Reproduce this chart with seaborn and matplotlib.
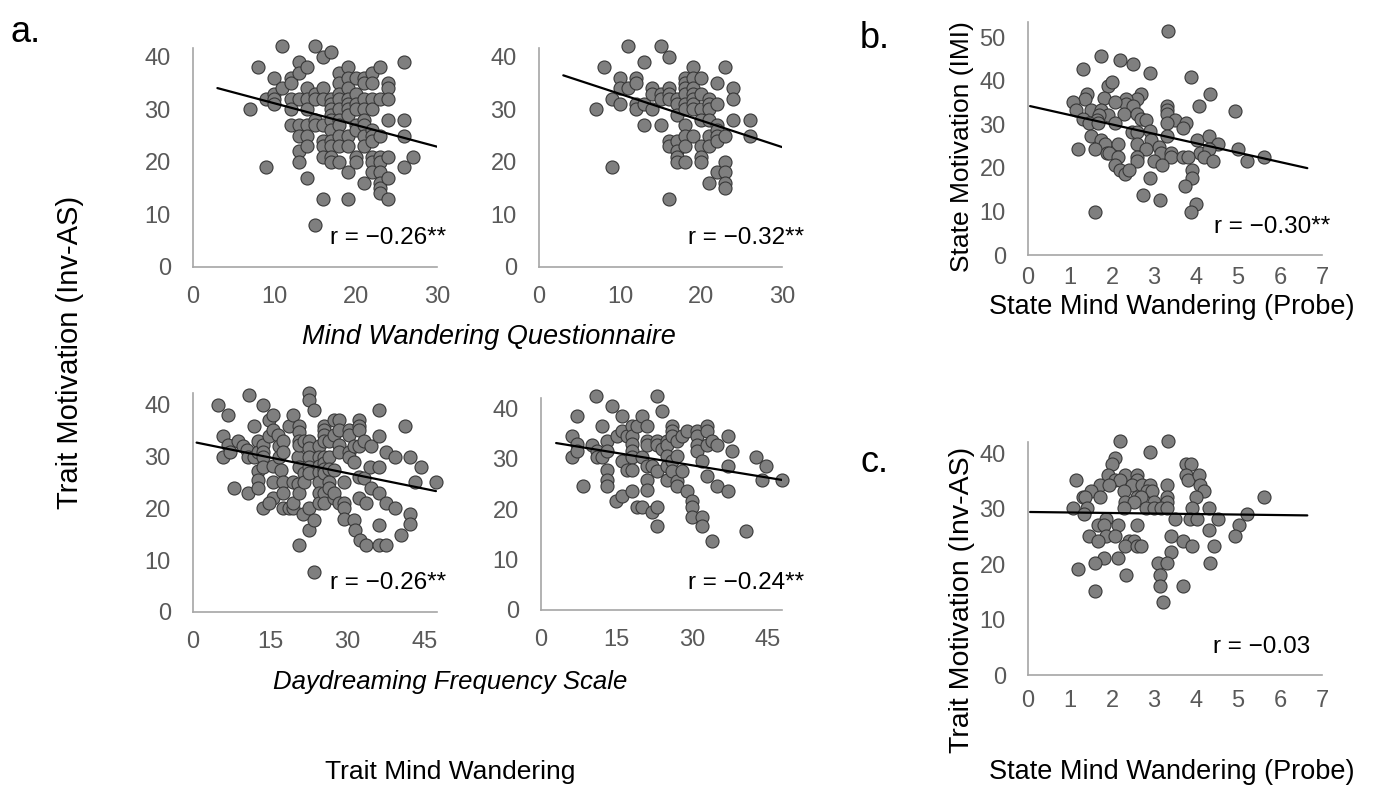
import numpy as np
import pandas as pd
import seaborn as sns
import matplotlib
matplotlib.use("Agg")
import matplotlib.pyplot as plt

# ---- data ----
# Mind Wandering Questionnaire (left): score -> motivation values at that score
mwq_a_score = [7, 8, 9, 10, 11, 12, 13, 14, 15, 16, 17, 18, 19, 20, 21, 22, 23, 24, 26, 27]
mwq_a_motiv = [
    [30], [38], [32, 19], [36, 33, 32, 31], [42, 34], [36, 35, 32, 30, 27],
    [39, 37, 32, 27, 25, 22, 20], [38, 34, 32, 30, 27, 25, 23, 17],
    [42, 33, 32, 28, 27, 8], [40, 34, 32, 27, 24, 23, 21, 13],
    [41, 32, 31, 30, 29, 28, 26, 24, 23, 21, 20],
    [37, 35, 33, 32, 30, 28, 27, 25, 23, 20],
    [38, 36, 34, 32, 31, 30, 29, 25, 23, 18, 13],
    [36, 33, 31, 30, 27, 26, 21, 20], [36, 35, 32, 30, 28, 27, 25, 23, 16],
    [37, 35, 32, 30, 26, 25, 24, 21, 20, 18],
    [38, 32, 25, 21, 20, 18, 16, 15, 14], [35, 34, 32, 28, 21, 17, 13],
    [39, 28, 25, 19], [21],
]

# Mind Wandering Questionnaire (right)
mwq_b_score = [7, 8, 9, 10, 11, 12, 13, 14, 15, 16, 17, 18, 19, 20, 21, 22, 23, 24, 26]
mwq_b_motiv = [
    [30], [38], [32, 19], [36, 34, 31], [42, 34], [36, 35, 31, 30], [39, 31, 27],
    [34, 33, 30], [42, 33, 32, 27], [40, 34, 33, 32, 24, 23, 13],
    [32, 31, 29, 24, 22, 21, 20], [36, 35, 34, 33, 31, 30, 27, 25, 23, 20],
    [38, 36, 34, 33, 32, 31, 30, 25], [36, 33, 30, 28, 23, 21, 20],
    [32, 31, 30, 28, 25, 23, 16], [35, 31, 27, 26, 25, 24, 18],
    [38, 25, 20, 18, 16, 15], [34, 32, 28], [28, 25],
]

# Daydreaming Frequency Scale (left)
ddfs_a_score = [4.9, 6.8, 5.9, 5.9, 6.8, 7.2, 7.9, 8.8, 9.7, 10.5, 10.7, 10.9, 10.7, 11.8, 11.8,
                12.6, 12.6, 12.6, 12.6, 12.6, 13.6, 13.6, 13.6, 13.6, 13.6, 13.6, 14.7, 14.7,
                15.5, 15.5, 15.5, 15.5, 15.5, 14.8, 16.5, 16.7, 16.7, 17.2, 17.5, 17.6, 17.6,
                17.6, 17.6, 18.6, 18.6, 19.4, 19.5, 19.5, 19.5, 20.4, 20.4, 20.7, 20.7, 20.7,
                20.7, 20.6, 20.7, 20.7, 21.7, 21.7, 21.7, 21.5, 22.6, 22.6, 22.6, 22.6, 22.6,
                22.6, 22.6, 22.6, 22.6, 23.6, 23.6, 23.6, 24.6, 24.6, 24.6, 24.6, 24.6, 24.6,
                24.6, 25.5, 25.5, 25.5, 25.5, 25.5, 25.5, 25.5, 25.5, 25.5, 25.5, 26.5, 26.5,
                26.5, 26.5, 26.5, 27.5, 27.5, 27.5, 27.5, 27.5, 28.4, 28.4, 28.4, 28.4, 28.4,
                29.4, 29.4, 29.4, 29.4, 30.4, 30.4, 30.4, 30.4, 31.4, 31.4, 31.4, 31.5, 32.3,
                32.3, 32.3, 32.3, 32.3, 32.3, 32.5, 33.3, 33.3, 33.6, 33.6, 34.6, 34.4, 34.6,
                36.3, 36.3, 36.3, 36.3, 36.3, 36.3, 37.5, 37.5, 37.5, 39.3, 39.3, 40.4, 41.2,
                42.3, 42.3, 42.3, 43.3, 44.3, 47.3]
ddfs_a_motiv = [40, 38, 34, 30, 32.3, 31, 24, 33, 32, 31.3, 30, 42, 23, 36, 30,
                33, 31, 27.3, 25.5, 24, 40, 32.3, 31, 30, 28, 20, 37, 34,
                38, 35.2, 28.2, 25.2, 22, 21, 34.2, 32, 30, 27.4, 33, 31, 25.2,
                23, 20, 36, 20, 20, 25.2, 21, 38, 30, 24.8, 36, 34.8, 33,
                32.3, 28, 23, 13, 33, 26.8, 25.2, 19, 42.3, 41, 20, 15.8, 33,
                31.6, 30, 28, 26.8, 39, 17.7, 7.7, 32, 30, 28.2, 27.1, 25.2, 23,
                21, 36, 35.2, 34.2, 33, 30, 28.7, 27.7, 26.8, 23, 21, 33, 30,
                27.7, 25.2, 24, 37, 34.2, 27.4, 22, 23, 37, 35.2, 32.3, 31, 21,
                25.2, 21, 20, 18, 35.2, 34.2, 31, 30, 32, 29, 17.7, 15.8, 37,
                36, 35.2, 32, 26.1, 22, 14, 33, 25.8, 21, 13, 32, 28, 24,
                39, 34, 28, 23, 16.8, 13, 13, 31, 21, 30, 20, 14.8, 36,
                30, 19, 17, 25.2, 28, 25.2]

# Daydreaming Frequency Scale (right)
ddfs_b_score = [6.1, 6.1, 7.1, 7.2, 7.2, 8.3, 10.1, 10.9, 11.1, 11.1, 12.1, 12.1, 13, 13, 13,
                13, 13, 14, 15, 14.9, 16, 16, 16, 16, 17, 17, 18, 18, 18, 18, 18, 18, 18,
                19, 19, 20, 20, 20, 21, 21, 21, 21, 21, 21, 22, 22, 23, 23, 23, 23, 23, 23,
                24, 24, 25, 25, 25, 25, 25, 26, 26, 26, 26, 26, 27, 27, 27, 27, 28, 28, 29,
                29, 30, 30, 30, 31, 31, 31, 31, 32, 32, 32, 33, 33, 33, 33, 34, 34, 35, 35,
                37, 37, 37, 37.9, 40.7, 42.7, 43.8, 44.7, 47.8]
ddfs_b_motiv = [34.4, 30.3, 38.4, 32.8, 31.5, 24.5, 32.6, 42.3, 31.5, 30.3, 36.4, 30.3, 33.4,
                31.5, 27.7, 25.7, 24.5, 40.4, 34.4, 21.5, 38.4, 35.4, 29.5, 22.5, 34.4, 27.7,
                36.4, 34.4, 32.8, 31.5, 30.3, 27.7, 23.5, 36.4, 20.5, 38.4, 30.3, 20.5, 36.4,
                33.4, 32.6, 28.5, 25.7, 23.8, 28.5, 19.5, 42.3, 33.4, 32.6, 27.5, 20.5, 16.7,
                39.4, 31.8, 33.4, 32.6, 30.5, 28.5, 25.7, 36.4, 35.4, 34.4, 29.5, 27.5, 33.4,
                30.5, 25.5, 24.5, 34.4, 27.5, 35.4, 23.5, 21.5, 20.5, 18.5, 35.4, 34.4, 32.6,
                31.5, 29.5, 18.5, 16.7, 36.4, 35.4, 32.6, 26.5, 33.4, 13.7, 32.6, 24.5, 34.4,
                28.5, 23.5, 31.5, 15.6, 30.3, 25.7, 28.5, 25.7]

# State mind wandering (probe) vs state motivation (IMI)
probe_b = [3.34, 1.74, 2.2, 2.5, 1.3, 2.9, 3.88, 1.9, 2.0, 4.34, 1.4, 1.36, 2.68, 2.6, 1.8,
           2.34, 2.34, 1.08, 2.06, 4.08, 3.32, 3.32, 3.32, 1.14, 1.5, 1.74, 2.5, 2.28, 4.92,
           1.9, 2.6, 2.68, 2.82, 1.68, 1.32, 1.64, 1.46, 1.66, 3.5, 3.76, 3.68, 2.06, 3.3,
           2.48, 2.6, 2.9, 2.94, 1.5, 3.32, 1.74, 1.84, 4.02, 4.32, 2.6, 2.14, 4.52, 3.12,
           3.16, 1.2, 1.6, 2.8, 5.0, 1.88, 1.94, 4.1, 4.32, 3.4, 3.4, 2.6, 2.6, 2.14, 3.68,
           3.8, 4.2, 5.62, 3.0, 4.4, 5.22, 3.2, 2.06, 2.2, 2.32, 2.4, 3.9, 3.9, 2.9, 3.74,
           2.74, 3.14, 4.0, 3.88, 1.6]
imi_b = [51.5, 45.8, 44.7, 43.9, 42.7, 41.8, 40.8, 38.9, 39.8, 37.0, 37.0, 35.9, 37.0, 35.9,
         36.1, 35.9, 34.7, 35.1, 35.1, 34.1, 34.1, 33.2, 32.3, 33.2, 33.2, 33.2, 34.1, 32.3,
         33.1, 32.1, 32.3, 31.3, 31.1, 32.1, 31.3, 30.9, 30.3, 30.3, 31.1, 30.2, 29.2, 30.3,
         30.2, 28.2, 28.2, 28.4, 26.3, 27.3, 27.3, 26.5, 25.6, 26.5, 27.3, 25.4, 25.4, 25.4,
         24.7, 23.4, 24.4, 24.4, 24.4, 24.4, 23.5, 23.5, 23.5, 24.4, 23.4, 22.5, 22.5, 21.6,
         22.5, 22.5, 22.5, 22.5, 22.5, 21.6, 21.6, 21.6, 20.6, 20.6, 19.5, 18.7, 19.5, 19.6,
         17.6, 17.6, 15.8, 13.7, 12.7, 11.8, 9.9, 9.9]

# State mind wandering (probe) vs trait motivation (Inv-AS)
probe_c = [2.2, 3.34, 2.9, 2.06, 2.0, 3.76, 3.88, 3.76, 3.8, 4.08, 1.9, 2.08, 2.32, 2.6, 2.6,
           1.14, 2.2, 1.72, 1.94, 2.48, 2.72, 2.9, 3.32, 4.1, 1.5, 2.28, 2.84, 2.96, 4.2,
           1.32, 1.36, 1.72, 2.6, 2.68, 3.32, 4.0, 5.62, 2.32, 2.52, 3.0, 3.32, 1.06, 1.4,
           2.28, 2.8, 3.0, 3.16, 3.32, 3.9, 4.32, 1.34, 5.22, 1.86, 3.5, 3.86, 4.02, 4.52,
           1.66, 1.8, 2.14, 2.6, 5.02, 4.32, 1.46, 1.86, 2.06, 3.4, 4.92, 1.66, 2.4, 2.52,
           3.7, 2.3, 2.6, 2.7, 3.9, 4.42, 3.4, 1.8, 2.14, 1.6, 3.1, 3.3, 4.34, 1.2, 2.34,
           3.14, 3.14, 3.68, 1.6, 3.22]
invas_c = [42.2, 42.2, 40.2, 39.2, 38.1, 38.1, 38.1, 36.1, 35.2, 36.1, 36.1, 35.2, 36.1, 36.1,
           35.2, 35.2, 35.2, 34.2, 34.2, 34.2, 34.2, 34.2, 34.2, 34.2, 33.1, 33.1, 33.1, 33.1,
           33.1, 32.1, 32.1, 32.1, 32.1, 32.1, 32.1, 32.1, 32.1, 31.1, 31.1, 31.1, 31.1, 30.1,
           30.1, 30.1, 30.1, 30.1, 30.1, 30.1, 30.1, 30.1, 29.1, 29.1, 28.1, 28.1, 28.1, 28.1,
           28.1, 27.1, 27.1, 27.1, 27.1, 27.1, 26.2, 25.1, 25.1, 25.1, 25.1, 25.1, 24.1, 24.1,
           24.1, 24.1, 23.2, 23.2, 23.2, 23.2, 23.2, 22.1, 21.1, 21.1, 20.1, 20.1, 20.1, 20.1,
           19.1, 18.1, 18.1, 16.1, 16.1, 15.1, 13.1]

r_labels = ["r = \u22120.26**", "r = \u22120.32**", "r = \u22120.30**",
            "r = \u22120.26**", "r = \u22120.24**", "r = \u22120.03"]


def expand(scores, motiv):
    xs, ys = [], []
    for s, vals in zip(scores, motiv):
        xs += [s] * len(vals)
        ys += vals
    return xs, ys


mwq_a_x, mwq_a_y = expand(mwq_a_score, mwq_a_motiv)
mwq_b_x, mwq_b_y = expand(mwq_b_score, mwq_b_motiv)

# ---- figure ----
sns.set_style("white")
plt.rcParams["font.family"] = ["Liberation Sans", "DejaVu Sans"]

W, H = 1374, 785
fig = plt.figure(figsize=(W / 100, H / 100), dpi=100)


def px_axes(x0, yb, x1, yt):
    return fig.add_axes([x0 / W, 1 - yb / H, (x1 - x0) / W, (yb - yt) / H])


def panel(ax, x, y, xlim, ylim, xticks, yticks, span, xpad=14):
    df = pd.DataFrame({"x": x, "y": y})
    sns.scatterplot(data=df, x="x", y="y", ax=ax, s=88, color="#7f7f7f",
                    edgecolor="#383838", linewidth=0.8, zorder=3, clip_on=False)
    k, b = np.polyfit(df["x"], df["y"], 1)
    lx = np.array(span)
    sns.lineplot(x=lx, y=k * lx + b, ax=ax, color="black", linewidth=1.6, zorder=4)
    ax.set_xlim(*xlim)
    ax.set_ylim(*ylim)
    ax.set_xticks(xticks)
    ax.set_yticks(yticks)
    ax.set_xlabel("")
    ax.set_ylabel("")
    sns.despine(ax=ax)
    for sp in ["left", "bottom"]:
        ax.spines[sp].set_color("#a6a6a6")
        ax.spines[sp].set_linewidth(1.2)
    ax.tick_params(axis="x", length=0, labelsize=17, labelcolor="#595959", pad=xpad)
    ax.tick_params(axis="y", length=0, labelsize=17, labelcolor="#595959", pad=16)


ax1 = px_axes(193, 267, 437, 48)
panel(ax1, mwq_a_x, mwq_a_y, (0, 30), (0, 41.7), [0, 10, 20, 30], [0, 10, 20, 30, 40], (3, 30))
ax2 = px_axes(539, 267, 782, 48)
panel(ax2, mwq_b_x, mwq_b_y, (0, 30), (0, 41.7), [0, 10, 20, 30], [0, 10, 20, 30, 40], (3, 30))
ax3 = px_axes(193, 612, 437, 393)
panel(ax3, ddfs_a_score, ddfs_a_motiv, (0, 47.5), (0, 42.3), [0, 15, 30, 45], [0, 10, 20, 30, 40], (0.7, 47.3))
ax4 = px_axes(541, 610, 782, 398)
panel(ax4, ddfs_b_score, ddfs_b_motiv, (0, 47.8), (0, 42), [0, 15, 30, 45], [0, 10, 20, 30, 40], (3, 47.8))
ax5 = px_axes(1028, 255, 1322, 22)
panel(ax5, probe_b, imi_b, (0, 7), (0, 53.5), range(8), [0, 10, 20, 30, 40, 50], (0.05, 6.65), xpad=9)
ax6 = px_axes(1028, 675, 1322, 442)
panel(ax6, probe_c, invas_c, (0, 7), (0, 42), range(8), [0, 10, 20, 30, 40], (0.05, 6.65), xpad=11)


def ftext(x, y, s, **kw):
    fig.text(x / W, 1 - y / H, s, **kw)


# correlation labels
for (rx, ry), lab in zip([(446, 238), (804, 238), (1330, 227), (446, 583), (804, 583), (1310, 647)], r_labels):
    ftext(rx, ry, lab, ha="right", va="center", fontsize=17.5, color="black")

# panel letters
ftext(10, 33, "a.", fontsize=26, va="center", ha="left", color="black")
ftext(860, 38, "b.", fontsize=26, va="center", ha="left", color="black")
ftext(860, 462, "c.", fontsize=26, va="center", ha="left", color="black")

# axis titles
ftext(489, 337, "Mind Wandering Questionnaire", fontsize=19.5, style="italic", ha="center", va="center", color="black")
ftext(450, 682, "Daydreaming Frequency Scale", fontsize=18.5, style="italic", ha="center", va="center", color="black")
ftext(450, 772, "Trait Mind Wandering", fontsize=19, ha="center", va="center", color="black")
ftext(1172, 307, "State Mind Wandering (Probe)", fontsize=19.5, ha="center", va="center", color="black")
ftext(1172, 772, "State Mind Wandering (Probe)", fontsize=19.5, ha="center", va="center", color="black")
ftext(70, 352, "Trait Motivation (Inv-AS)", fontsize=21, rotation=90, ha="center", va="center", color="black")
ftext(962, 147, "State Motivation (IMI)", fontsize=19, rotation=90, ha="center", va="center", color="black")
ftext(962, 600, "Trait Motivation (Inv-AS)", fontsize=20.5, rotation=90, ha="center", va="center", color="black")

fig.savefig("out.png", dpi=100)
